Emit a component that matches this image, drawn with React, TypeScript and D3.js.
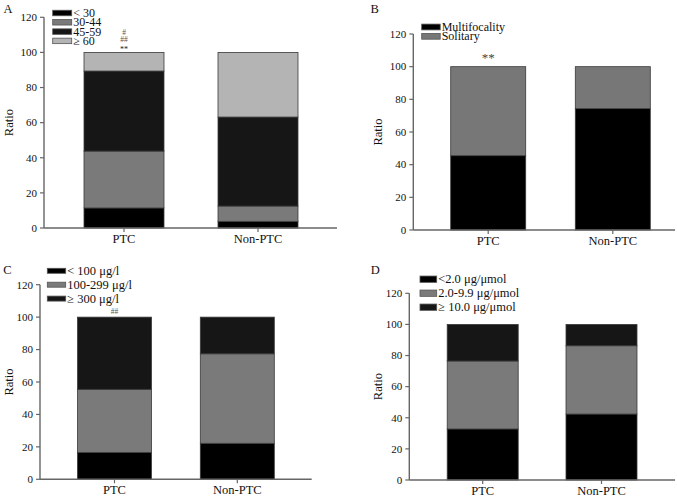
import React from "react";
import * as d3 from "d3";

const groups = ["PTC", "Non-PTC"];
const yTicks = [0, 20, 40, 60, 80, 100, 120];

const ageLabels = ["< 30", "30-44", "45-59", "≥ 60"];
const agePTC = [11.4, 32.4, 45.6, 10.6];
const ageNonPTC = [3.8, 8.7, 50.7, 36.8];
const ageColors = ["#000000", "#7a7a7a", "#161616", "#b4b4b4"];

const focalityLabels = ["Multifocality", "Solitary"];
const focalityPTC = [45.5, 54.5];
const focalityNonPTC = [74.3, 25.7];
const focalityColors = ["#000000", "#777777"];

const iodineLabels = ["< 100 μg/l", "100-299 μg/l", "≥ 300 μg/l"];
const iodinePTC = [16.6, 38.9, 44.5];
const iodineNonPTC = [22.2, 55.2, 22.6];
const iodineColors = ["#000000", "#7a7a7a", "#161616"];

const creatLabels = ["<2.0 μg/μmol", "2.0-9.9 μg/μmol", "≥ 10.0 μg/μmol"];
const creatPTC = [32.8, 43.7, 23.5];
const creatNonPTC = [42.4, 43.9, 13.7];
const creatColors = ["#000000", "#7a7a7a", "#161616"];

const FONT = "Liberation Serif, Times New Roman, Times, serif";

type Ann = { text: string; dy: number; size: number; color: string };

type PanelProps = {
  letter: string;
  letterX: number;
  letterY: number;
  labels: string[];
  ptc: number[];
  non: number[];
  colors: string[];
  axisX: number;
  axisEnd: number;
  y0: number;
  y120: number;
  centers: [number, number];
  barW: number;
  ratioX: number;
  legX: number;
  legY: number;
  legStep: number;
  legW: number;
  legH: number;
  legFont: number;
  anns: Ann[];
};

function Panel(p: PanelProps) {
  const keys = p.labels;
  const rows = groups.map((g, gi) => {
    const r: any = { group: g };
    keys.forEach((k, i) => (r[k] = gi === 0 ? p.ptc[i] : p.non[i]));
    return r;
  });
  const stacked = d3.stack<any>().keys(keys)(rows);
  const y = d3.scaleLinear().domain([0, 120]).range([p.y0, p.y120]);
  const x = d3.scalePoint<string>().domain(groups).range(p.centers);
  return (
    <g fontFamily={FONT}>
      <text x={p.letterX} y={p.letterY} fontSize={12.5} fill="#111">
        {p.letter}
      </text>
      {stacked.map((s, si) =>
        s.map((d, di) => (
          <rect
            key={si + "-" + di}
            x={(x(groups[di]) as number) - p.barW / 2}
            y={y(d[1])}
            width={p.barW}
            height={y(d[0]) - y(d[1])}
            fill={p.colors[si]}
            stroke="#3a3a3a"
            strokeWidth={0.8}
          />
        ))
      )}
      <line x1={p.axisX} x2={p.axisX} y1={p.y0} y2={y(120)} stroke="#666" strokeWidth={1.4} />
      <line x1={p.axisX} x2={p.axisEnd} y1={p.y0} y2={p.y0} stroke="#666" strokeWidth={1.4} />
      {yTicks.map((t) => (
        <g key={t}>
          <line x1={p.axisX - 4} x2={p.axisX} y1={y(t)} y2={y(t)} stroke="#666" strokeWidth={1.2} />
          <text x={p.axisX - 7} y={y(t) + 3.8} fontSize={11} textAnchor="end" fill="#111">
            {t}
          </text>
        </g>
      ))}
      {groups.map((g) => (
        <g key={g}>
          <line x1={x(g)} x2={x(g)} y1={p.y0} y2={p.y0 + 4} stroke="#666" strokeWidth={1.2} />
          <text x={x(g)} y={p.y0 + 15} fontSize={12.5} textAnchor="middle" fill="#111">
            {g}
          </text>
        </g>
      ))}
      <text
        transform={`translate(${p.ratioX},${(p.y0 + y(120)) / 2}) rotate(-90)`}
        fontSize={12.5}
        textAnchor="middle"
        fill="#111"
      >
        Ratio
      </text>
      {keys.map((k, i) => (
        <g key={k}>
          <rect
            x={p.legX}
            y={p.legY + i * p.legStep - p.legH / 2}
            width={p.legW}
            height={p.legH}
            fill={p.colors[i]}
            stroke="#555"
            strokeWidth={0.8}
          />
          <text x={p.legX + p.legW + 1.5} y={p.legY + i * p.legStep + 4} fontSize={p.legFont} fill="#111">
            {k}
          </text>
        </g>
      ))}
      {p.anns.map((a, i) => (
        <text
          key={i}
          x={x(groups[0])}
          y={y(100) + a.dy}
          fontSize={a.size}
          textAnchor="middle"
          fill={a.color}
        >
          {a.text}
        </text>
      ))}
    </g>
  );
}

export default function App() {
  return (
    <svg
      width={677}
      height={500}
      style={{ position: "absolute", left: 0, top: 0, background: "#fff" }}
    >
      <rect width={677} height={500} fill="#fff" />
      <Panel
        letter="A"
        letterX={3.5}
        letterY={13}
        labels={ageLabels}
        ptc={agePTC}
        non={ageNonPTC}
        colors={ageColors}
        axisX={44}
        axisEnd={337}
        y0={228}
        y120={17.3}
        centers={[124, 258]}
        barW={80}
        ratioX={13}
        legX={52.7}
        legY={13}
        legStep={9.3}
        legW={19}
        legH={5.5}
        legFont={12}
        anns={[
          { text: "#", dy: -17.5, size: 7.5, color: "#555" },
          { text: "##", dy: -10, size: 7.5, color: "#555" },
          { text: "**", dy: -0.5, size: 8, color: "#222" },
        ]}
      />
      <Panel
        letter="B"
        letterX={370.5}
        letterY={12.5}
        labels={focalityLabels}
        ptc={focalityPTC}
        non={focalityNonPTC}
        colors={focalityColors}
        axisX={413.3}
        axisEnd={675}
        y0={230}
        y120={34}
        centers={[488.2, 612.8]}
        barW={75}
        ratioX={382}
        legX={421.7}
        legY={27}
        legStep={9.3}
        legW={18.5}
        legH={5.8}
        legFont={12}
        anns={[{ text: "**", dy: -5, size: 13, color: "#444" }]}
      />
      <Panel
        letter="C"
        letterX={3.3}
        letterY={274}
        labels={iodineLabels}
        ptc={iodinePTC}
        non={iodineNonPTC}
        colors={iodineColors}
        axisX={40}
        axisEnd={311.7}
        y0={479.3}
        y120={284.7}
        centers={[114.5, 237.3]}
        barW={74}
        ratioX={13}
        legX={47.3}
        legY={270.8}
        legStep={13.9}
        legW={18.4}
        legH={5}
        legFont={12.5}
        anns={[{ text: "##", dy: -3, size: 7.5, color: "#555" }]}
      />
      <Panel
        letter="D"
        letterX={370.7}
        letterY={273.5}
        labels={creatLabels}
        ptc={creatPTC}
        non={creatNonPTC}
        colors={creatColors}
        axisX={409.3}
        axisEnd={675}
        y0={480}
        y120={293.3}
        centers={[482.7, 601.5]}
        barW={71}
        ratioX={382}
        legX={420}
        legY={279.2}
        legStep={14}
        legW={16.7}
        legH={6.3}
        legFont={12.5}
        anns={[]}
      />
    </svg>
  );
}
